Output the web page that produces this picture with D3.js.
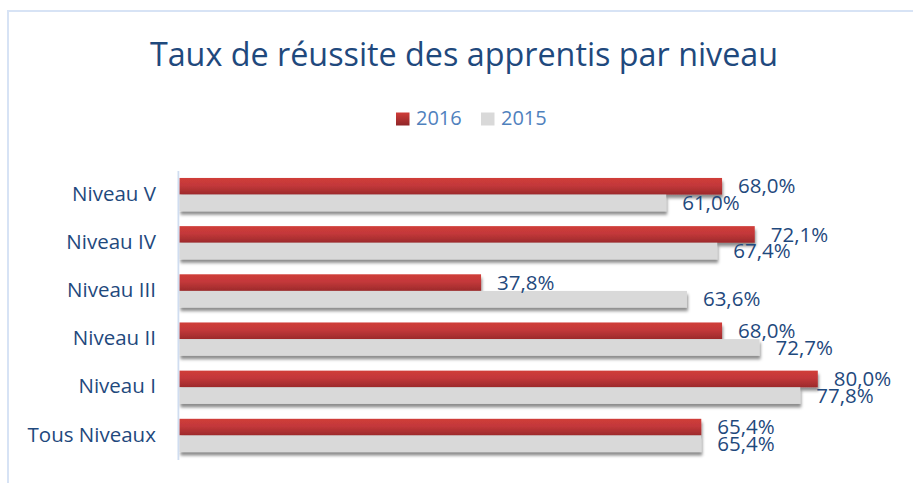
<!DOCTYPE html>
<html>
<head>
<meta charset="utf-8">
<script src="https://cdn.jsdelivr.net/npm/d3@7"></script>
<style>
  html, body { margin: 0; padding: 0; background: #fff; }
  svg { display: block; font-family: "Open Sans", sans-serif; }
</style>
</head>
<body>
<div id="chart"></div>
<script>
/* Taux de réussite des apprentis par niveau — barres horizontales groupées */

const CATEGORIES = ["Niveau V", "Niveau IV", "Niveau III", "Niveau II", "Niveau I", "Tous Niveaux"];
const SERIES = ["2016", "2015"];
const VALUES_2016 = [68.0, 72.1, 37.8, 68.0, 80.0, 65.4];
const VALUES_2015 = [61.0, 67.4, 63.6, 72.7, 77.8, 65.4];

const W = 913, H = 483;
const TEXT_DARK = "#1f497d";
const TEXT_LEGEND = "#4f81bd";
const GRAY = "#d9d9d9";

const fr = d3.formatLocale({ decimal: ",", thousands: " ", grouping: [3], currency: ["", " €"] });
const pct = v => fr.format(".1f")(v) + "%";

const svg = d3.select("#chart").append("svg")
  .attr("width", W)
  .attr("height", H);

const defs = svg.append("defs");

const grad = defs.append("linearGradient")
  .attr("id", "redGrad")
  .attr("x1", 0).attr("y1", 0).attr("x2", 0).attr("y2", 1);
grad.append("stop").attr("offset", "0%").attr("stop-color", "#d03d39");
grad.append("stop").attr("offset", "45%").attr("stop-color", "#c3383a");
grad.append("stop").attr("offset", "100%").attr("stop-color", "#9c2a2b");

const shadow = defs.append("filter")
  .attr("id", "shadow")
  .attr("x", "-5%").attr("y", "-20%")
  .attr("width", "110%").attr("height", "170%");
shadow.append("feDropShadow")
  .attr("dx", 1).attr("dy", 3.5)
  .attr("stdDeviation", 1.8)
  .attr("flood-color", "#000")
  .attr("flood-opacity", 0.45);

// chart area border
svg.append("rect")
  .attr("x", 8).attr("y", 11)
  .attr("width", 940).attr("height", 520)
  .attr("fill", "#fff")
  .attr("stroke", "#d7e3f5")
  .attr("stroke-width", 2);

// title
svg.append("text")
  .attr("x", 464)
  .attr("y", 66)
  .attr("text-anchor", "middle")
  .attr("font-size", 32.3)
  .attr("fill", TEXT_DARK)
  .text("Taux de réussite des apprentis par niveau");

// ── Scales ──────────────────────────────────────────────────────────────────
const x = d3.scaleLinear().domain([0, 100]).range([179.4, 977.4]);

const y = d3.scaleBand()
  .domain(CATEGORIES)
  .range([170.5, 459.5])
  .paddingInner(0.31)
  .paddingOuter(0.155);

const ySub = d3.scaleBand()
  .domain(SERIES)
  .range([0, y.bandwidth()]);

const seriesFill = { "2016": "url(#redGrad)", "2015": GRAY };
const seriesLegend = { "2016": "url(#legendGrad)", "2015": GRAY };

const rows = CATEGORIES.map((c, i) => ({
  cat: c,
  vals: [
    { s: "2016", v: VALUES_2016[i] },
    { s: "2015", v: VALUES_2015[i] },
  ],
}));

// ── Legend ──────────────────────────────────────────────────────────────────
const lg = defs.append("linearGradient")
  .attr("id", "legendGrad")
  .attr("x1", 0).attr("y1", 0).attr("x2", 0).attr("y2", 1);
lg.append("stop").attr("offset", "0%").attr("stop-color", "#d03d39");
lg.append("stop").attr("offset", "100%").attr("stop-color", "#8f2628");

const legendX = [396, 481];
const legend = svg.append("g").selectAll("g")
  .data(SERIES)
  .join("g")
  .attr("transform", (d, i) => `translate(${legendX[i]},0)`);
legend.append("rect")
  .attr("x", 0).attr("y", 112.5)
  .attr("width", 13.5).attr("height", 13)
  .attr("fill", d => seriesLegend[d]);
legend.append("text")
  .attr("x", 20).attr("y", 125)
  .attr("font-size", 20)
  .attr("fill", TEXT_LEGEND)
  .text(d => d);

// ── Bars ────────────────────────────────────────────────────────────────────
const groups = svg.append("g").selectAll("g")
  .data(rows)
  .join("g")
  .attr("transform", d => `translate(0,${y(d.cat)})`);

groups.selectAll("rect.bar")
  .data(d => d.vals)
  .join("rect")
  .attr("class", "bar")
  .attr("x", x(0))
  .attr("y", d => ySub(d.s))
  .attr("width", d => x(d.v) - x(0))
  .attr("height", ySub.bandwidth())
  .attr("fill", d => seriesFill[d.s])
  .attr("filter", "url(#shadow)");

// labels overlap in the original too, keep them as they are
groups.selectAll("text.val")
  .data(d => d.vals)
  .join("text")
  .attr("class", "val")
  .attr("x", d => x(d.v) + 16)
  .attr("y", d => ySub(d.s) + ySub.bandwidth() / 2)
  .attr("dy", "0.35em")
  .attr("font-size", 20.5)
  .attr("fill", TEXT_DARK)
  .text(d => pct(d.v));

// ── Axis ────────────────────────────────────────────────────────────────────
const yAxis = svg.append("g")
  .attr("transform", `translate(${x(0) - 1.5},0)`)
  .call(d3.axisLeft(y).tickSize(0).tickPadding(22));
yAxis.select(".domain")
  .attr("stroke", "#d0ddf0")
  .attr("stroke-width", 1.8);
yAxis.selectAll(".tick text")
  .attr("font-family", "Open Sans, sans-serif")
  .attr("font-size", 20.5)
  .attr("fill", TEXT_DARK)
  .attr("dy", "0.3em");
</script>
</body>
</html>
